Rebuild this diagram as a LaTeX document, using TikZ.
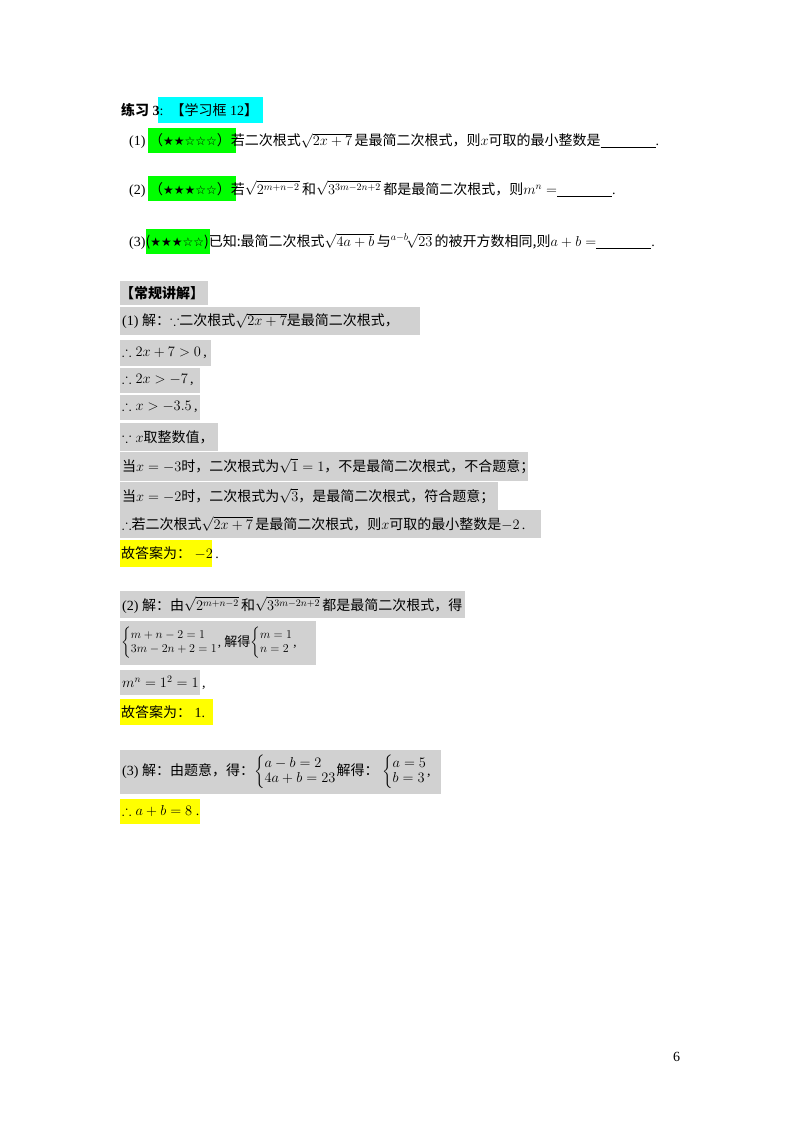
\documentclass[tikz,border=0pt]{standalone}
\usepackage{amsmath,amssymb}
\usepackage{fontspec}
\setmainfont{Liberation Serif}
\newfontfamily\cjk{Noto Sans CJK SC}
\newfontfamily\sym{DejaVu Sans}
\definecolor{cy}{RGB}{0,255,255}
\definecolor{gr}{RGB}{0,255,0}
\definecolor{ye}{RGB}{255,255,0}
\begin{document}
\begin{tikzpicture}[x=1pt,y=-1pt,
  t/.style={anchor=west,inner sep=0pt,font=\fontsize{14}{15}\selectfont},
  gbox/.style={fill=black!18},
  ybox/.style={fill=ye},
  grn/.style={fill=gr},
  cyn/.style={fill=cy}]
\useasboundingbox[fill=white] (0,0) rectangle (800,1132);
\newcommand{\C}[1]{{\cjk #1}}
\newcommand{\stars}[1]{{\sym\fontsize{12}{12}\selectfont #1}}
% highlight boxes
\fill[cyn] (158,97) rectangle (263,123);
\fill[grn] (148,128) rectangle (236,153);
\fill[grn] (148,176) rectangle (236,201);
\fill[grn] (146,229) rectangle (210,254);
\fill[gbox] (120,281) rectangle (208,305);
\fill[gbox] (120,307) rectangle (420,335);
\fill[gbox] (120,340) rectangle (211,366);
\fill[gbox] (120,368) rectangle (200,393);
\fill[gbox] (120,395) rectangle (200,420);
\fill[gbox] (120,423) rectangle (218,451);
\fill[gbox] (120,452) rectangle (528,481);
\fill[gbox] (120,482) rectangle (498,510);
\fill[gbox] (120,510) rectangle (541,538);
\fill[ybox] (120,540) rectangle (212,567);
\fill[gbox] (120,591) rectangle (465,618);
\fill[gbox] (120,621) rectangle (316,665);
\fill[gbox] (120,670) rectangle (200,695);
\fill[ybox] (120,699) rectangle (213,725);
\fill[gbox] (120,750) rectangle (441,794);
\fill[ybox] (120,799) rectangle (200,824);
% texts
\node[t] (title) at (121,110) {\C{\bfseries 练习} \textbf{3}:\ \ \C{【学习框} 12\C{】}};
\node[t] (q1) at (129,141) {(1)\ \C{（}\stars{★★☆☆☆}\C{）若二次根式}$\sqrt{2x+7}$\,\C{是最简二次根式，则}$x$\C{可取的最小整数是}\underline{\hspace{55pt}}.};
\node[t] (q2) at (129,189) {(2)\ \C{（}\stars{★★★☆☆}\C{）若}$\sqrt{2^{m+n-2}}$\,\C{和}$\sqrt{3^{3m-2n+2}}$\,\C{都是最简二次根式，则}$m^n=$\underline{\hspace{55pt}}.};
\node[t] (q3) at (129,241) {(3)\C{(}\stars{★★★☆☆}\C{)已知:最简二次根式}$\sqrt{4a+b}$\,\C{与}${}^{a-b}\!\sqrt{23}$\,\C{的被开方数相同,则}$a+b=$\underline{\hspace{55pt}}.};
\node[t] (h) at (120,293) {\C{\bfseries 【常规讲解】}};
\node[t] (s1) at (122,321) {(1)\ \C{解：}$\because$\C{二次根式}$\sqrt{2x+7}$\C{是最简二次根式，}};
\node[t] (s2) at (122,353) {$\therefore 2x+7>0$\,,};
\node[t] (s3) at (122,380) {$\therefore 2x>-7$\,,};
\node[t] (s4) at (122,407) {$\therefore x>-3.5$\,,};
\node[t] (s5) at (122,437) {$\because x$\C{取整数值，}};
\node[t] (s6) at (122,466) {\C{当}$x=-3$\C{时，二次根式为}$\sqrt{1}=1$\C{，不是最简二次根式，不合题意；}};
\node[t] (s7) at (122,496) {\C{当}$x=-2$\C{时，二次根式为}$\sqrt{3}$\C{，是最简二次根式，符合题意；}};
\node[t] (s8) at (122,524) {$\therefore$\C{若二次根式}$\sqrt{2x+7}$\,\C{是最简二次根式，则}$x$\C{可取的最小整数是}$-2$\,.};
\node[t] (a1) at (121,553) {\C{故答案为：}\ $-2$\,.};
\node[t] (t1) at (122,605) {(2)\ \C{解：由}$\sqrt{2^{m+n-2}}$\,\C{和}$\sqrt{3^{3m-2n+2}}$\,\C{都是最简二次根式，得}};
\node[t,font=\fontsize{13}{14}\selectfont] (t2) at (121,643) {$\left\{\begin{array}{@{}l@{}}m+n-2=1\\3m-2n+2=1\end{array}\right.$,\ \C{解得}$\left\{\begin{array}{@{}l@{}}m=1\\n=2\end{array}\right.$,};
\node[t] (t3) at (122,683) {$m^n=1^2=1$\ ,};
\node[t] (a2) at (121,712) {\C{故答案为：}\ 1.};
\node[t] (u1) at (122,772) {(3)\ \C{解：由题意，得：}$\left\{\begin{array}{@{}l@{}}a-b=2\\4a+b=23\end{array}\right.$\C{解得：}\ $\left\{\begin{array}{@{}l@{}}a=5\\b=3\end{array}\right.$,};
\node[t] (a3) at (122,811) {$\therefore a+b=8$\ .};
\node[t] (pg) at (673,1057) {6};
\end{tikzpicture}
\end{document}
